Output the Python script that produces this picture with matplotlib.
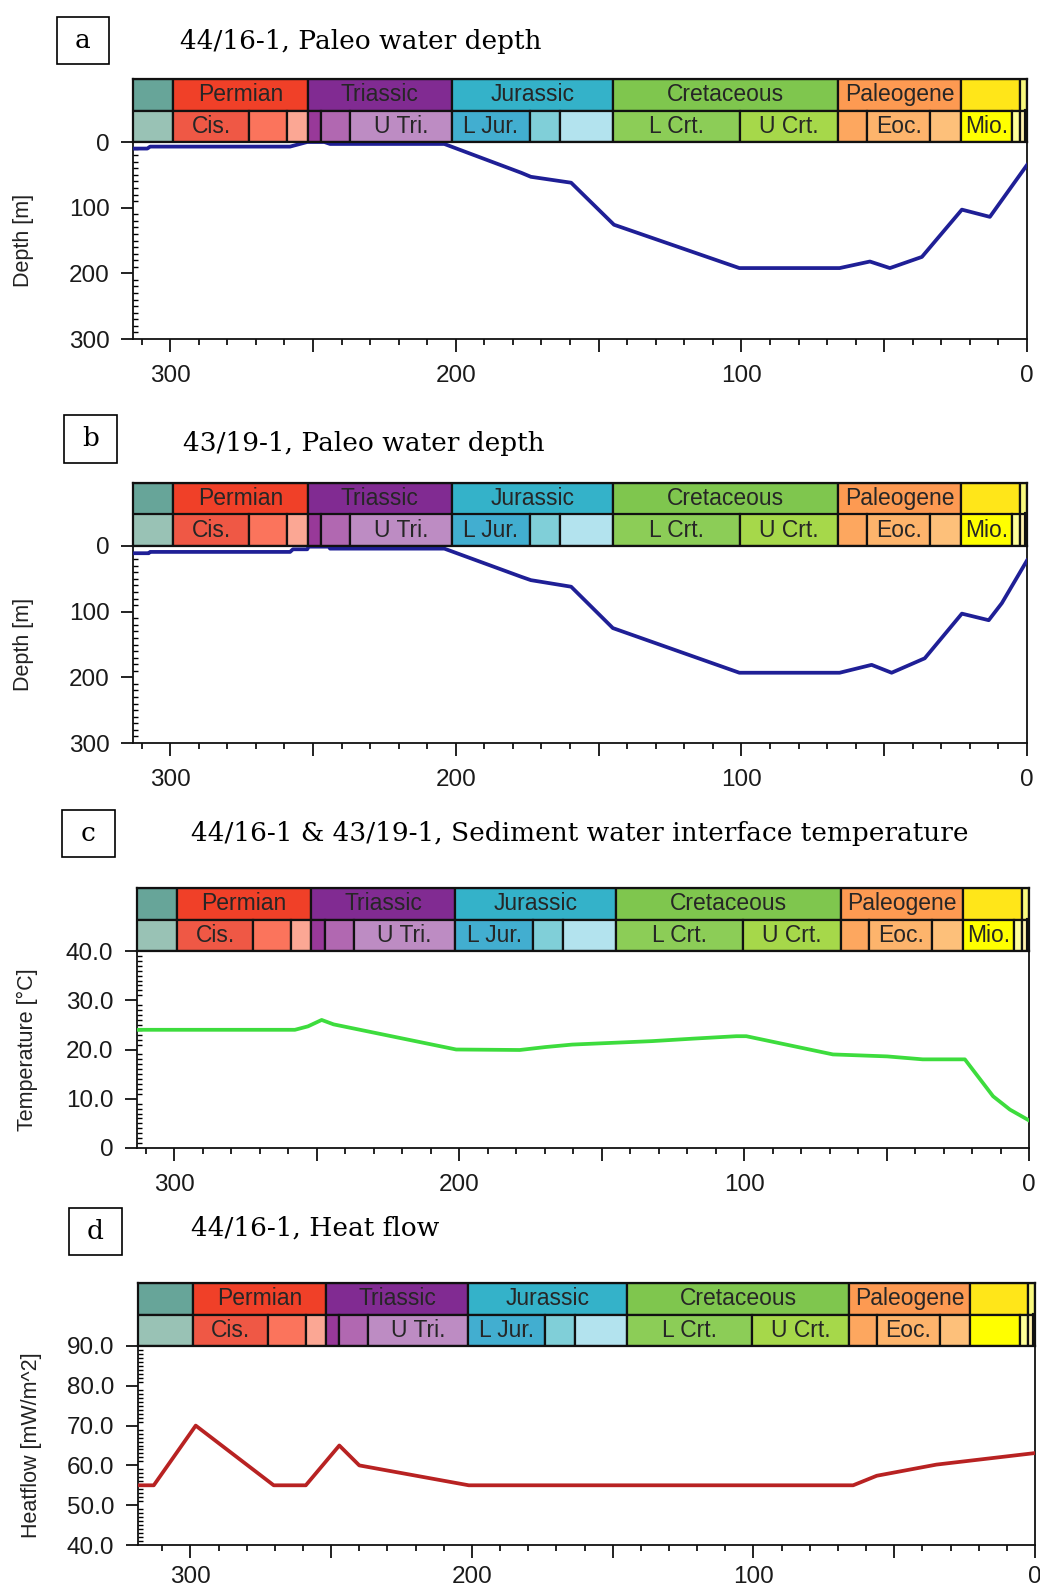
import matplotlib
matplotlib.use("Agg")
import matplotlib.pyplot as plt
from matplotlib.patches import Rectangle
from matplotlib.ticker import MultipleLocator, FuncFormatter

# ---------------- data ----------------
# geological time scale (Ma)
period_names = ["", "Permian", "Triassic", "Jurassic", "Cretaceous", "Paleogene", "", ""]
period_bounds = [330.0, 298.9, 251.9, 201.3, 145.0, 66.0, 23.03, 2.58, 0.0]
period_colors = ["#67A599", "#F04028", "#812B92", "#34B2C9", "#7FC64E", "#FD9A52", "#FFE619", "#F9F97F"]

epoch_names = ["", "Cis.", "", "", "", "", "U Tri.", "L Jur.", "", "", "L Crt.", "U Crt.",
               "", "Eoc.", "", "Mio.", "", "", ""]
epoch_bounds = [330.0, 298.9, 272.3, 259.1, 251.9, 247.2, 237.0, 201.3, 174.1, 163.5, 145.0,
                100.5, 66.0, 56.0, 33.9, 23.03, 5.333, 2.58, 0.0117, 0.0]
epoch_colors = ["#99C2B5", "#EF5845", "#FB745C", "#FBA794", "#983999", "#B168B1", "#BD8CC3",
                "#42AED0", "#80CFD8", "#B3E3EE", "#8CCD57", "#A6D84A", "#FDA75F", "#FDB46C",
                "#FDC07A", "#FFFF00", "#FFFF99", "#FFF2AE", "#FEF2E0"]

# panel a: 44/16-1 paleo water depth
age_a = [313, 308, 307, 258, 252, 246, 244, 204, 177, 173.7, 159.6, 144.6, 100.7, 65.6, 55, 48, 36.8, 22.8, 13, 0]
depth_a = [10, 10, 7, 7, 0, 0, 3, 3, 47, 53, 62, 126, 192, 192, 182, 192, 175, 103, 114, 35]

# panel b: 43/19-1 paleo water depth
age_b = [313, 307.5, 307, 258, 257, 252, 251.5, 244.5, 244, 204, 177, 173.7, 159.6, 145, 100.7, 65.6,
         54.4, 47.4, 35.8, 22.8, 13.4, 8.8, 0]
depth_b = [11, 11, 9, 9, 5, 5, 1, 1, 4, 4, 47, 52, 62, 125, 193, 193, 181, 193, 171, 103, 113, 87, 22]

# panel c: sediment water interface temperature
age_c = [313, 257.6, 253, 248.2, 244, 201, 178.7, 169.6, 160.3, 132.3, 118, 102.7, 99.2, 68.8, 49.8,
         37.3, 22.5, 12.6, 6.7, 0]
temp_c = [24, 24, 24.7, 26, 25.1, 20, 19.9, 20.5, 21, 21.7, 22.2, 22.7, 22.7, 19, 18.6,
          18, 18, 10.5, 7.8, 5.6]

# panel d: 44/16-1 heat flow
age_d = [318.6, 313, 298.1, 270.4, 259, 247.1, 240, 201.1, 64.6, 56.2, 35, 0]
hf_d = [55, 55, 70, 55, 55, 65, 60, 55, 55, 57.4, 60.2, 63.1]

titles = ["44/16-1, Paleo water depth", "43/19-1, Paleo water depth",
          "44/16-1 & 43/19-1, Sediment water interface temperature", "44/16-1, Heat flow"]
letters = ["a", "b", "c", "d"]
ylabels = ["Depth [m]", "Depth [m]", "Temperature [\u00b0C]", "Heatflow [mW/m^2]"]

# ---------------- layout (pixels) ----------------
W, H = 1040, 1590
fig = plt.figure(figsize=(W / 100, H / 100), dpi=100)
fig.patch.set_facecolor("white")

SANS = "Liberation Sans"
SERIF = "DejaVu Serif"


def px_axes(x0, y0, x1, y1):
    return fig.add_axes([x0 / W, 1 - y1 / H, (x1 - x0) / W, (y1 - y0) / H])


layout = [
    dict(plot=(133, 142, 1027, 339), head=79, xlim=(313, 0), box=(57, 17, 109, 64), title=(180, 41), ylab=24, xpad=10),
    dict(plot=(133, 546, 1027, 743), head=483, xlim=(313, 0), box=(64, 415, 117, 463), title=(183, 443), ylab=24, xpad=10),
    dict(plot=(137, 951, 1029, 1148), head=888, xlim=(313, 0), box=(62, 810, 115, 857), title=(191, 833), ylab=27, xpad=10),
    dict(plot=(138, 1346, 1035, 1545), head=1283, xlim=(318.6, 0), box=(69, 1208, 122, 1255), title=(191, 1228), ylab=32, xpad=6),
]

series = [(age_a, depth_a, "#1f1f96"), (age_b, depth_b, "#1f1f96"),
          (age_c, temp_c, "#3ddc3d"), (age_d, hf_d, "#b82222")]

ylims = [(300, 0), (300, 0), (0, 40), (40, 90)]
ymajor = [100, 100, 10, 10]
yminor = [10, 10, 1, 1]
yfmt = [lambda v, p: f"{v:.0f}", lambda v, p: f"{v:.0f}",
        lambda v, p: "0" if abs(v) < 1e-9 else f"{v:.1f}", lambda v, p: f"{v:.1f}"]


def draw_header(axh, xlim, show_mio=True):
    axh.set_xlim(*xlim)
    axh.set_ylim(0, 2)
    axh.set_xticks([])
    axh.set_yticks([])
    for s in axh.spines.values():
        s.set_linewidth(1.6)
        s.set_color("#111111")
    lo, hi = min(xlim), max(xlim)
    for i, name in enumerate(period_names):
        a0, a1 = period_bounds[i], period_bounds[i + 1]
        axh.add_patch(Rectangle((a1, 1), a0 - a1, 1, facecolor=period_colors[i],
                                edgecolor="#111111", lw=1.6, clip_on=True))
        if name:
            c = (min(a0, hi) + max(a1, lo)) / 2
            axh.text(c, 1.5, name, ha="center", va="center", fontsize=16.5, family=SANS,
                     color="#262626", clip_on=True)
    for i, name in enumerate(epoch_names):
        a0, a1 = epoch_bounds[i], epoch_bounds[i + 1]
        axh.add_patch(Rectangle((a1, 0), a0 - a1, 1, facecolor=epoch_colors[i],
                                edgecolor="#111111", lw=1.6, clip_on=True))
        if name and (show_mio or name != "Mio."):
            c = (min(a0, hi) + max(a1, lo)) / 2
            axh.text(c, 0.5, name, ha="center", va="center", fontsize=16.5, family=SANS,
                     color="#262626", clip_on=True)
    axh.plot([0.5, 0.5], [0, 1], color="#111111", lw=3.0, clip_on=True)


for k, L in enumerate(layout):
    x0, y0, x1, y1 = L["plot"]
    ax = px_axes(x0, y0, x1, y1)
    axh = px_axes(x0, L["head"], x1, y0)
    draw_header(axh, L["xlim"], show_mio=(k != 3))

    xs, ys, col = series[k]
    ax.plot(xs, ys, color=col, lw=2.7, solid_joinstyle="round", zorder=3)
    ax.set_xlim(*L["xlim"])
    ax.set_ylim(*ylims[k])

    ax.spines["top"].set_visible(False)
    for s in ("left", "bottom", "right"):
        ax.spines[s].set_linewidth(1.3)
        ax.spines[s].set_color("#111111")

    ax.xaxis.set_major_locator(MultipleLocator(50))
    ax.xaxis.set_minor_locator(MultipleLocator(10))
    ax.xaxis.set_major_formatter(FuncFormatter(lambda v, p: f"{v:.0f}" if abs(v % 100) < 1e-6 else ""))
    ax.yaxis.set_major_locator(MultipleLocator(ymajor[k]))
    ax.yaxis.set_minor_locator(MultipleLocator(yminor[k]))
    ax.yaxis.set_major_formatter(FuncFormatter(yfmt[k]))

    ax.tick_params(axis="x", which="major", direction="out", length=9, width=1.3, pad=L["xpad"],
                   labelsize=17.5, colors="#111111")
    ax.tick_params(axis="x", which="minor", direction="out", length=4.5, width=1.2)
    ax.tick_params(axis="y", which="major", direction="out", length=9, width=1.3, pad=8,
                   labelsize=17.5, colors="#111111")
    ax.tick_params(axis="y", which="minor", direction="in", length=3.5, width=1.0)
    for lab in ax.get_xticklabels() + ax.get_yticklabels():
        lab.set_family(SANS)
        lab.set_color("#1a1a1a")

    # y label
    fig.text(L["ylab"] / W, 1 - ((y0 + y1) / 2) / H, ylabels[k], rotation=90, ha="center",
             va="center", fontsize=15.5, family=SANS, color="#222222")

    # letter box
    bx0, by0, bx1, by1 = L["box"]
    fig.patches.append(Rectangle((bx0 / W, 1 - by1 / H), (bx1 - bx0) / W, (by1 - by0) / H,
                                 transform=fig.transFigure, facecolor="white",
                                 edgecolor="black", lw=1.2))
    fig.text((bx0 + bx1) / 2 / W, 1 - ((by0 + by1) / 2) / H, letters[k], ha="center", va="center",
             fontsize=19, family=SERIF, color="black")
    tx, ty = L["title"]
    fig.text(tx / W, 1 - ty / H, titles[k], ha="left", va="center", fontsize=19,
             family=SERIF, color="black")

fig.savefig("out.png", dpi=100, facecolor="white")
